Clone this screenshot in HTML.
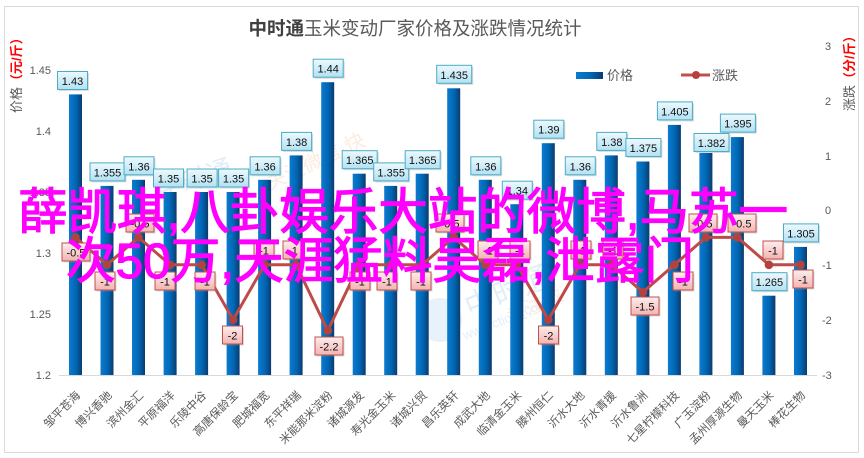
<!DOCTYPE html>
<html>
<head>
<meta charset="utf-8">
<style>
html,body{margin:0;padding:0;background:#fff;}
svg{display:block;}
text{font-family:"Liberation Sans","Noto Sans CJK SC",sans-serif;}
</style>
</head>
<body>
<svg width="864" height="458" viewBox="0 0 864 458" xmlns="http://www.w3.org/2000/svg">
<defs>
<linearGradient id="bg" x1="0" y1="0" x2="1" y2="0">
<stop offset="0" stop-color="#0b7bd0"/>
<stop offset="0.55" stop-color="#0066b2"/>
<stop offset="1" stop-color="#0c3a6e"/>
</linearGradient>
<linearGradient id="pg" x1="0" y1="0" x2="0" y2="1">
<stop offset="0" stop-color="#edf9fd"/>
<stop offset="1" stop-color="#b2e2f3"/>
</linearGradient>
<linearGradient id="cg" x1="0" y1="0" x2="0" y2="1">
<stop offset="0" stop-color="#fdeeee"/>
<stop offset="1" stop-color="#f3b3b0"/>
</linearGradient>
</defs>
<rect x="0" y="0" width="864" height="458" fill="#fff"/>
<rect x="4.5" y="6.5" width="854" height="446" fill="#fff" stroke="#d9d9d9" stroke-width="1"/>

<!-- faint watermark logos -->
<g opacity="0.35">
<circle cx="440" cy="320" r="22" fill="#b9d9f0"/>
<text x="470" y="318" font-size="30" fill="#a9cfee" transform="rotate(-22 470 318)">中时通</text>
<text x="465" y="340" font-size="13" fill="#a9cfee" transform="rotate(-22 465 340)">www.ctiom.com</text>
<text x="160" y="200" font-size="26" fill="#a9cfee" transform="rotate(-18 160 200)">中时通</text>
<text x="270" y="190" font-size="20" fill="#f4c9a8" transform="rotate(-25 270 190)">关注微信·快</text>
<text x="510" y="325" font-size="20" fill="#f4c9a8" transform="rotate(-25 510 325)">关注微</text>
</g>

<!-- title -->
<text x="415" y="35" text-anchor="middle" font-size="18.5"><tspan font-weight="bold" fill="#404040">中时通</tspan><tspan fill="#595959">玉米变动厂家价格及涨跌情况统计</tspan></text>

<!-- legend -->
<rect x="576" y="72" width="27" height="7" fill="url(#bg)"/>
<text x="607" y="80" font-size="13" fill="#595959">价格</text>
<line x1="681" y1="75" x2="710" y2="75" stroke="#c0504d" stroke-width="3"/>
<circle cx="696" cy="75" r="4" fill="#b3423e"/>
<text x="712" y="80" font-size="13" fill="#595959">涨跌</text>

<!-- axis titles -->
<text transform="translate(21,113) rotate(-90)" font-size="13"><tspan fill="#595959">价格</tspan><tspan fill="#ff0000" font-weight="bold">（元/斤）</tspan></text>
<text transform="translate(854,111) rotate(-90)" font-size="13"><tspan fill="#595959">涨跌</tspan><tspan fill="#ff0000" font-weight="bold">（分/斤）</tspan></text>

<!-- left ticks -->
<g font-size="11" fill="#595959" text-anchor="end">
<text x="51" y="74">1.45</text>
<text x="51" y="135">1.4</text>
<text x="51" y="196">1.35</text>
<text x="51" y="257">1.3</text>
<text x="51" y="318">1.25</text>
<text x="51" y="379">1.2</text>
</g>
<!-- right ticks -->
<g font-size="11" fill="#595959">
<text x="825" y="50">3</text>
<text x="825" y="105">2</text>
<text x="825" y="160">1</text>
<text x="825" y="214">0</text>
<text x="822" y="269">-1</text>
<text x="822" y="324">-2</text>
<text x="822" y="379">-3</text>
</g>

<!-- axis line -->
<line x1="59" y1="375.5" x2="817" y2="375.5" stroke="#d9d9d9" stroke-width="1"/>

<!-- bars -->
<g fill="url(#bg)">
<rect x="69" y="94.4" width="13" height="280.6"/>
<rect x="100.5" y="185.9" width="13" height="189.1"/>
<rect x="132" y="179.8" width="13" height="195.2"/>
<rect x="163.6" y="192" width="13" height="183"/>
<rect x="195.1" y="192" width="13" height="183"/>
<rect x="226.6" y="192" width="13" height="183"/>
<rect x="258.1" y="179.8" width="13" height="195.2"/>
<rect x="289.6" y="155.4" width="13" height="219.6"/>
<rect x="321.2" y="82.2" width="13" height="292.8"/>
<rect x="352.7" y="173.7" width="13" height="201.3"/>
<rect x="384.2" y="185.9" width="13" height="189.1"/>
<rect x="415.7" y="173.7" width="13" height="201.3"/>
<rect x="447.2" y="88.3" width="13" height="286.7"/>
<rect x="478.8" y="179.8" width="13" height="195.2"/>
<rect x="510.3" y="204.2" width="13" height="170.8"/>
<rect x="541.8" y="143.2" width="13" height="231.8"/>
<rect x="573.3" y="179.8" width="13" height="195.2"/>
<rect x="604.8" y="155.4" width="13" height="219.6"/>
<rect x="636.4" y="161.5" width="13" height="213.5"/>
<rect x="667.9" y="124.9" width="13" height="250.1"/>
<rect x="699.4" y="153" width="13" height="222"/>
<rect x="730.9" y="137.1" width="13" height="237.9"/>
<rect x="762.4" y="295.7" width="13" height="79.3"/>
<rect x="794" y="246.9" width="13" height="128.1"/>
</g>

<!-- line -->
<polyline fill="none" stroke="#be4b48" stroke-width="3" stroke-linejoin="round" points="75.5,237.4 107,264.8 138.5,237.4 170.1,264.8 201.6,264.8 233.1,319.7 264.6,264.8 296.1,264.8 327.7,330.6 359.2,264.8 390.7,264.8 422.2,264.8 453.7,237.4 485.3,264.8 516.8,264.8 548.3,319.7 579.8,264.8 611.3,264.8 642.9,292.2 674.4,264.8 705.9,237.4 737.4,237.4 768.9,264.8 800.5,264.8"/>
<g fill="#b3423e">
<circle cx="75.5" cy="237.4" r="4.3"/><circle cx="107" cy="264.8" r="4.3"/><circle cx="138.5" cy="237.4" r="4.3"/><circle cx="170.1" cy="264.8" r="4.3"/><circle cx="201.6" cy="264.8" r="4.3"/><circle cx="233.1" cy="319.7" r="4.3"/><circle cx="264.6" cy="264.8" r="4.3"/><circle cx="296.1" cy="264.8" r="4.3"/><circle cx="327.7" cy="330.6" r="4.3"/><circle cx="359.2" cy="264.8" r="4.3"/><circle cx="390.7" cy="264.8" r="4.3"/><circle cx="422.2" cy="264.8" r="4.3"/><circle cx="453.7" cy="237.4" r="4.3"/><circle cx="485.3" cy="264.8" r="4.3"/><circle cx="516.8" cy="264.8" r="4.3"/><circle cx="548.3" cy="319.7" r="4.3"/><circle cx="579.8" cy="264.8" r="4.3"/><circle cx="611.3" cy="264.8" r="4.3"/><circle cx="642.9" cy="292.2" r="4.3"/><circle cx="674.4" cy="264.8" r="4.3"/><circle cx="705.9" cy="237.4" r="4.3"/><circle cx="737.4" cy="237.4" r="4.3"/><circle cx="768.9" cy="264.8" r="4.3"/><circle cx="800.5" cy="264.8" r="4.3"/>
</g>

<!-- price labels -->
<g font-size="11" fill="#111" text-anchor="middle">
<g><rect x="59" y="73" width="30" height="18" fill="#999" opacity="0.35"/><rect x="57.5" y="71.5" width="30" height="18" fill="url(#pg)" stroke="#4bacc6"/><text x="72.5" y="85">1.43</text></g>
<g><rect x="91.5" y="164.4" width="35" height="18" fill="#999" opacity="0.35"/><rect x="90" y="162.9" width="35" height="18" fill="url(#pg)" stroke="#4bacc6"/><text x="107.5" y="176.4">1.355</text></g>
<g><rect x="125.5" y="158.3" width="30" height="18" fill="#999" opacity="0.35"/><rect x="124" y="156.8" width="30" height="18" fill="url(#pg)" stroke="#4bacc6"/><text x="139" y="170.3">1.36</text></g>
<g><rect x="155" y="170.5" width="30" height="18" fill="#999" opacity="0.35"/><rect x="153.5" y="169" width="30" height="18" fill="url(#pg)" stroke="#4bacc6"/><text x="168.5" y="182.5">1.35</text></g>
<g><rect x="188.6" y="170.5" width="30" height="18" fill="#999" opacity="0.35"/><rect x="187.1" y="169" width="30" height="18" fill="url(#pg)" stroke="#4bacc6"/><text x="202.1" y="182.5">1.35</text></g>
<g><rect x="220.1" y="170.5" width="30" height="18" fill="#999" opacity="0.35"/><rect x="218.6" y="169" width="30" height="18" fill="url(#pg)" stroke="#4bacc6"/><text x="233.6" y="182.5">1.35</text></g>
<g><rect x="251.6" y="158.3" width="30" height="18" fill="#999" opacity="0.35"/><rect x="250.1" y="156.8" width="30" height="18" fill="url(#pg)" stroke="#4bacc6"/><text x="265.1" y="170.3">1.36</text></g>
<g><rect x="283.1" y="133.9" width="30" height="18" fill="#999" opacity="0.35"/><rect x="281.6" y="132.4" width="30" height="18" fill="url(#pg)" stroke="#4bacc6"/><text x="296.6" y="145.9">1.38</text></g>
<g><rect x="314.7" y="60.7" width="30" height="18" fill="#999" opacity="0.35"/><rect x="313.2" y="59.2" width="30" height="18" fill="url(#pg)" stroke="#4bacc6"/><text x="328.2" y="72.7">1.44</text></g>
<g><rect x="343.7" y="152.2" width="35" height="18" fill="#999" opacity="0.35"/><rect x="342.2" y="150.7" width="35" height="18" fill="url(#pg)" stroke="#4bacc6"/><text x="359.7" y="164.2">1.365</text></g>
<g><rect x="375.2" y="164.4" width="35" height="18" fill="#999" opacity="0.35"/><rect x="373.7" y="162.9" width="35" height="18" fill="url(#pg)" stroke="#4bacc6"/><text x="391.2" y="176.4">1.355</text></g>
<g><rect x="406.7" y="152.2" width="35" height="18" fill="#999" opacity="0.35"/><rect x="405.2" y="150.7" width="35" height="18" fill="url(#pg)" stroke="#4bacc6"/><text x="422.7" y="164.2">1.365</text></g>
<g><rect x="438.2" y="66.8" width="35" height="18" fill="#999" opacity="0.35"/><rect x="436.7" y="65.3" width="35" height="18" fill="url(#pg)" stroke="#4bacc6"/><text x="454.2" y="78.8">1.435</text></g>
<g><rect x="472.3" y="158.3" width="30" height="18" fill="#999" opacity="0.35"/><rect x="470.8" y="156.8" width="30" height="18" fill="url(#pg)" stroke="#4bacc6"/><text x="485.8" y="170.3">1.36</text></g>
<g><rect x="503.8" y="182.7" width="30" height="18" fill="#999" opacity="0.35"/><rect x="502.3" y="181.2" width="30" height="18" fill="url(#pg)" stroke="#4bacc6"/><text x="517.3" y="194.7">1.34</text></g>
<g><rect x="535.3" y="121.7" width="30" height="18" fill="#999" opacity="0.35"/><rect x="533.8" y="120.2" width="30" height="18" fill="url(#pg)" stroke="#4bacc6"/><text x="548.8" y="133.7">1.39</text></g>
<g><rect x="566.8" y="158.3" width="30" height="18" fill="#999" opacity="0.35"/><rect x="565.3" y="156.8" width="30" height="18" fill="url(#pg)" stroke="#4bacc6"/><text x="580.3" y="170.3">1.36</text></g>
<g><rect x="598.3" y="133.9" width="30" height="18" fill="#999" opacity="0.35"/><rect x="596.8" y="132.4" width="30" height="18" fill="url(#pg)" stroke="#4bacc6"/><text x="611.8" y="145.9">1.38</text></g>
<g><rect x="627.4" y="140" width="35" height="18" fill="#999" opacity="0.35"/><rect x="625.9" y="138.5" width="35" height="18" fill="url(#pg)" stroke="#4bacc6"/><text x="643.4" y="152">1.375</text></g>
<g><rect x="658.9" y="103.4" width="35" height="18" fill="#999" opacity="0.35"/><rect x="657.4" y="101.9" width="35" height="18" fill="url(#pg)" stroke="#4bacc6"/><text x="674.9" y="115.4">1.405</text></g>
<g><rect x="695.5" y="135" width="35" height="18" fill="#999" opacity="0.35"/><rect x="694" y="133.5" width="35" height="18" fill="url(#pg)" stroke="#4bacc6"/><text x="711.5" y="147">1.382</text></g>
<g><rect x="721.9" y="115.6" width="35" height="18" fill="#999" opacity="0.35"/><rect x="720.4" y="114.1" width="35" height="18" fill="url(#pg)" stroke="#4bacc6"/><text x="737.9" y="127.6">1.395</text></g>
<g><rect x="753.4" y="274.2" width="35" height="18" fill="#999" opacity="0.35"/><rect x="751.9" y="272.7" width="35" height="18" fill="url(#pg)" stroke="#4bacc6"/><text x="769.4" y="286.2">1.265</text></g>
<g><rect x="785" y="225.4" width="35" height="18" fill="#999" opacity="0.35"/><rect x="783.5" y="223.9" width="35" height="18" fill="url(#pg)" stroke="#4bacc6"/><text x="801" y="237.4">1.305</text></g>
</g>

<!-- change labels -->
<g font-size="11" fill="#111" text-anchor="middle">
<g><rect x="63.5" y="244.5" width="28" height="18" fill="#999" opacity="0.35"/><rect x="62" y="243" width="28" height="18" fill="url(#cg)" stroke="#c0504d"/><text x="76" y="256.5">-0.5</text></g>
<g><rect x="96.5" y="273.5" width="20" height="18" fill="#999" opacity="0.35"/><rect x="95" y="272" width="20" height="18" fill="url(#cg)" stroke="#c0504d"/><text x="105" y="285.5">-1</text></g>
<g><rect x="127.5" y="215.5" width="28" height="18" fill="#999" opacity="0.35"/><rect x="126" y="214" width="28" height="18" fill="url(#cg)" stroke="#c0504d"/><text x="140" y="227.5">-0.5</text></g>
<g><rect x="156.5" y="273.5" width="20" height="18" fill="#999" opacity="0.35"/><rect x="155" y="272" width="20" height="18" fill="url(#cg)" stroke="#c0504d"/><text x="165" y="285.5">-1</text></g>
<g><rect x="196.5" y="273.5" width="20" height="18" fill="#999" opacity="0.35"/><rect x="195" y="272" width="20" height="18" fill="url(#cg)" stroke="#c0504d"/><text x="205" y="285.5">-1</text></g>
<g><rect x="224" y="327.5" width="20" height="18" fill="#999" opacity="0.35"/><rect x="222.5" y="326" width="20" height="18" fill="url(#cg)" stroke="#c0504d"/><text x="232.5" y="339.5">-2</text></g>
<g><rect x="255.5" y="242.5" width="20" height="18" fill="#999" opacity="0.35"/><rect x="254" y="241" width="20" height="18" fill="url(#cg)" stroke="#c0504d"/><text x="264" y="254.5">-1</text></g>
<g><rect x="284.5" y="242.5" width="20" height="18" fill="#999" opacity="0.35"/><rect x="283" y="241" width="20" height="18" fill="url(#cg)" stroke="#c0504d"/><text x="293" y="254.5">-1</text></g>
<g><rect x="316.5" y="338.5" width="28" height="18" fill="#999" opacity="0.35"/><rect x="315" y="337" width="28" height="18" fill="url(#cg)" stroke="#c0504d"/><text x="329" y="350.5">-2.2</text></g>
<g><rect x="351.5" y="273.5" width="20" height="18" fill="#999" opacity="0.35"/><rect x="350" y="272" width="20" height="18" fill="url(#cg)" stroke="#c0504d"/><text x="360" y="285.5">-1</text></g>
<g><rect x="378.5" y="273.5" width="20" height="18" fill="#999" opacity="0.35"/><rect x="377" y="272" width="20" height="18" fill="url(#cg)" stroke="#c0504d"/><text x="387" y="285.5">-1</text></g>
<g><rect x="412.5" y="273.5" width="20" height="18" fill="#999" opacity="0.35"/><rect x="411" y="272" width="20" height="18" fill="url(#cg)" stroke="#c0504d"/><text x="421" y="285.5">-1</text></g>
<g><rect x="437.5" y="215.5" width="28" height="18" fill="#999" opacity="0.35"/><rect x="436" y="214" width="28" height="18" fill="url(#cg)" stroke="#c0504d"/><text x="450" y="227.5">-0.5</text></g>
<g><rect x="479.5" y="242.5" width="20" height="18" fill="#999" opacity="0.35"/><rect x="478" y="241" width="20" height="18" fill="url(#cg)" stroke="#c0504d"/><text x="488" y="254.5">-1</text></g>
<g><rect x="511.5" y="242.5" width="20" height="18" fill="#999" opacity="0.35"/><rect x="510" y="241" width="20" height="18" fill="url(#cg)" stroke="#c0504d"/><text x="520" y="254.5">-1</text></g>
<g><rect x="540" y="327.5" width="20" height="18" fill="#999" opacity="0.35"/><rect x="538.5" y="326" width="20" height="18" fill="url(#cg)" stroke="#c0504d"/><text x="548.5" y="339.5">-2</text></g>
<g><rect x="572.5" y="242.5" width="20" height="18" fill="#999" opacity="0.35"/><rect x="571" y="241" width="20" height="18" fill="url(#cg)" stroke="#c0504d"/><text x="581" y="254.5">-1</text></g>
<g><rect x="604.5" y="242.5" width="20" height="18" fill="#999" opacity="0.35"/><rect x="603" y="241" width="20" height="18" fill="url(#cg)" stroke="#c0504d"/><text x="613" y="254.5">-1</text></g>
<g><rect x="632.5" y="298.5" width="28" height="18" fill="#999" opacity="0.35"/><rect x="631" y="297" width="28" height="18" fill="url(#cg)" stroke="#c0504d"/><text x="645" y="310.5">-1.5</text></g>
<g><rect x="674.5" y="273.5" width="20" height="18" fill="#999" opacity="0.35"/><rect x="673" y="272" width="20" height="18" fill="url(#cg)" stroke="#c0504d"/><text x="683" y="285.5">-1</text></g>
<g><rect x="690.5" y="215.5" width="28" height="18" fill="#999" opacity="0.35"/><rect x="689" y="214" width="28" height="18" fill="url(#cg)" stroke="#c0504d"/><text x="703" y="227.5">-0.5</text></g>
<g><rect x="729.5" y="215.5" width="28" height="18" fill="#999" opacity="0.35"/><rect x="728" y="214" width="28" height="18" fill="url(#cg)" stroke="#c0504d"/><text x="742" y="227.5">-0.5</text></g>
<g><rect x="764.5" y="242.5" width="20" height="18" fill="#999" opacity="0.35"/><rect x="763" y="241" width="20" height="18" fill="url(#cg)" stroke="#c0504d"/><text x="773" y="254.5">-1</text></g>
<g><rect x="794.5" y="271.5" width="20" height="18" fill="#999" opacity="0.35"/><rect x="793" y="270" width="20" height="18" fill="url(#cg)" stroke="#c0504d"/><text x="803" y="283.5">-1</text></g>
</g>

<!-- x labels -->
<g font-size="11.5" fill="#595959" text-anchor="end">
<text transform="translate(81,396) rotate(-45)">邹平苍海</text>
<text transform="translate(112.5,396) rotate(-45)">博兴香驰</text>
<text transform="translate(144,396) rotate(-45)">滨州金汇</text>
<text transform="translate(175.6,396) rotate(-45)">平原福洋</text>
<text transform="translate(207.1,396) rotate(-45)">乐陵中谷</text>
<text transform="translate(238.6,396) rotate(-45)">高唐保龄宝</text>
<text transform="translate(270.1,396) rotate(-45)">肥城福宽</text>
<text transform="translate(301.6,396) rotate(-45)">东平祥瑞</text>
<text transform="translate(333.2,396) rotate(-45)">米能那米淀粉</text>
<text transform="translate(364.7,396) rotate(-45)">诸城源发</text>
<text transform="translate(396.2,396) rotate(-45)">寿光金玉米</text>
<text transform="translate(427.7,396) rotate(-45)">诸城兴贸</text>
<text transform="translate(459.2,396) rotate(-45)">昌乐英轩</text>
<text transform="translate(490.8,396) rotate(-45)">成武大地</text>
<text transform="translate(522.3,396) rotate(-45)">临清金玉米</text>
<text transform="translate(553.8,396) rotate(-45)">滕州恒仁</text>
<text transform="translate(585.3,396) rotate(-45)">沂水大地</text>
<text transform="translate(616.8,396) rotate(-45)">沂水青援</text>
<text transform="translate(648.4,396) rotate(-45)">沂水鲁洲</text>
<text transform="translate(679.9,396) rotate(-45)">七星柠檬科技</text>
<text transform="translate(711.4,396) rotate(-45)">广玉淀粉</text>
<text transform="translate(742.9,396) rotate(-45)">孟州厚源生物</text>
<text transform="translate(774.4,396) rotate(-45)">曼天玉米</text>
<text transform="translate(806,396) rotate(-45)">棒花生物</text>
</g>

<!-- magenta overlay text -->
<g font-size="49.5" fill="#ff00ff" stroke="#ff00ff" stroke-width="1.2">
<text x="18" y="229" textLength="770" lengthAdjust="spacing">薛凯琪,八卦娱乐大站的微博,马苏一</text>
<text x="66" y="278" textLength="628" lengthAdjust="spacing">次50万,天涯猛料吴磊,泄露门</text>
</g>
</svg>
</body>
</html>
